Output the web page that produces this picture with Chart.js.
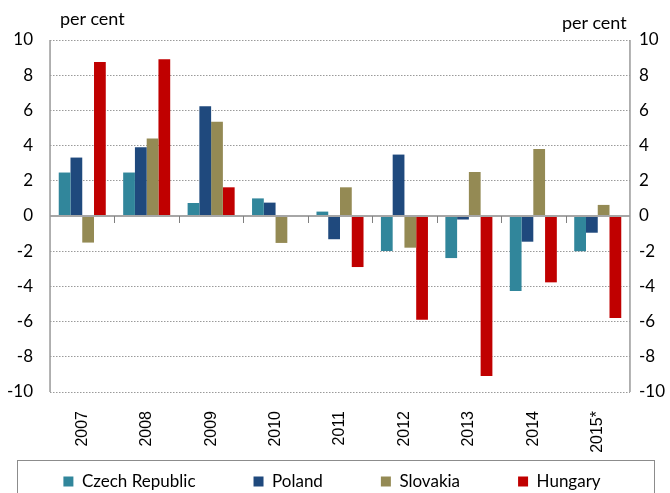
<!DOCTYPE html>
<html>
<head>
<meta charset="utf-8">
<script src="https://cdn.jsdelivr.net/npm/chart.js@4.4.1/dist/chart.umd.min.js"></script>
<style>
body { margin: 0; background: #fff; }
#wrap { position: relative; width: 670px; height: 493px; }
.unit { position: absolute; font: 18px Lato; line-height: 22px; color: #000; }
</style>
</head>
<body>
<div id="wrap">
<canvas id="chart" width="670" height="493"></canvas>
<span class="unit" style="left:60px; top:7px">per cent</span>
<span class="unit" style="left:562px; top:11px">per cent</span>
</div>
<script>
// values in per cent
const years = ['2007', '2008', '2009', '2010', '2011', '2012', '2013', '2014', '2015*'];
const czech = [2.47, 2.47, 0.74, 1.0, 0.25, -1.99, -2.39, -4.26, -2.0];
const poland = [3.32, 3.9, 6.23, 0.76, -1.32, 3.49, -0.2, -1.46, -0.95];
const slovakia = [-1.51, 4.41, 5.36, -1.53, 1.63, -1.8, 2.5, 3.81, 0.63];
const hungary = [8.75, 8.9, 1.63, -0.05, -2.9, -5.89, -9.09, -3.77, -5.8];
const yTicks = [-10, -8, -6, -4, -2, 0, 2, 4, 6, 8, 10];

const tickFont = { family: 'Lato', size: 17 };
const yearFont = { family: 'Liberation Sans', size: 16 };
const legendFont = { family: 'Lato', size: 17 };

// zero line, axis lines, category ticks and legend frame
const axisLines = {
    id: 'axisLines',
    afterLayout: function (chart) {
        // let the rotated year labels use the room under the plot
        const x = chart.scales.x;
        x.bottom = chart.height;
        x.height = x.bottom - x.top;
    },
    afterDatasetsDraw: function (chart) {
        const ctx = chart.ctx;
        const a = chart.chartArea;
        const x = chart.scales.x;
        const y = chart.scales.y;
        const y0 = y.getPixelForValue(0);
        ctx.save();
        ctx.strokeStyle = '#a6a6a6';
        ctx.lineWidth = 2;
        ctx.beginPath();
        ctx.moveTo(a.left, y0);
        ctx.lineTo(a.right, y0);
        ctx.stroke();
        ctx.lineWidth = 1.5;
        ctx.strokeStyle = '#999';
        ctx.beginPath();
        ctx.moveTo(a.left, a.top);
        ctx.lineTo(a.left, a.bottom);
        ctx.moveTo(a.right, a.top);
        ctx.lineTo(a.right, a.bottom);
        ctx.stroke();
        ctx.strokeStyle = '#808080';
        ctx.lineWidth = 1;
        ctx.beginPath();
        for (let i = 1; i < years.length; i++) {
            const xb = Math.round((x.getPixelForTick(i - 1) + x.getPixelForTick(i)) / 2) + 0.5;
            ctx.moveTo(xb, y0);
            ctx.lineTo(xb, y0 + 7);
        }
        ctx.stroke();
        ctx.strokeStyle = '#8c8c8c';
        ctx.strokeRect(17.5, 460.5, 637, 40);
        ctx.restore();
    }
};

new Chart(document.getElementById('chart'), {
    type: 'bar',
    data: {
        labels: years,
        datasets: [
            { label: 'Czech Republic', data: czech, backgroundColor: '#31869b' },
            { label: 'Poland', data: poland, backgroundColor: '#1f497d' },
            { label: 'Slovakia', data: slovakia, backgroundColor: '#948a54' },
            { label: 'Hungary', data: hungary, backgroundColor: '#c00000' }
        ]
    },
    options: {
        responsive: false,
        animation: false,
        layout: { padding: { top: 40, left: -10, right: -4, bottom: 0 } },
        datasets: { bar: { categoryPercentage: 0.73, barPercentage: 1.0 } },
        plugins: {
            tooltip: { enabled: false },
            legend: {
                position: 'bottom',
                maxHeight: 78,
                labels: {
                    font: legendFont,
                    color: '#000',
                    boxWidth: 10,
                    boxHeight: 10,
                    padding: 58
                }
            }
        },
        scales: {
            x: {
                grid: { display: false },
                border: { display: false },
                ticks: { font: yearFont, color: '#000', minRotation: 90, maxRotation: 90, padding: 11 },
                afterFit: function (s) {
                    s.height = 23;
                    s.paddingLeft = 0;
                    s.paddingRight = 0;
                }
            },
            y: {
                min: -10,
                max: 10,
                afterBuildTicks: function (s) { s.ticks = yTicks.map(v => ({ value: v })); },
                grid: {
                    drawTicks: false,
                    color: ctx => ctx.tick && ctx.tick.value === 0 ? 'rgba(0,0,0,0)' : '#9a9a9a',
                    lineWidth: 1
                },
                border: { display: false, dash: [1.5, 1.5] },
                ticks: { font: tickFont, color: '#000', padding: 17 }
            },
            y2: {
                position: 'right',
                min: -10,
                max: 10,
                afterBuildTicks: function (s) { s.ticks = yTicks.map(v => ({ value: v })); },
                grid: { drawOnChartArea: false, drawTicks: false },
                border: { display: false },
                ticks: { font: tickFont, color: '#000', padding: 9 }
            }
        }
    },
    plugins: [axisLines]
});
</script>
</body>
</html>
